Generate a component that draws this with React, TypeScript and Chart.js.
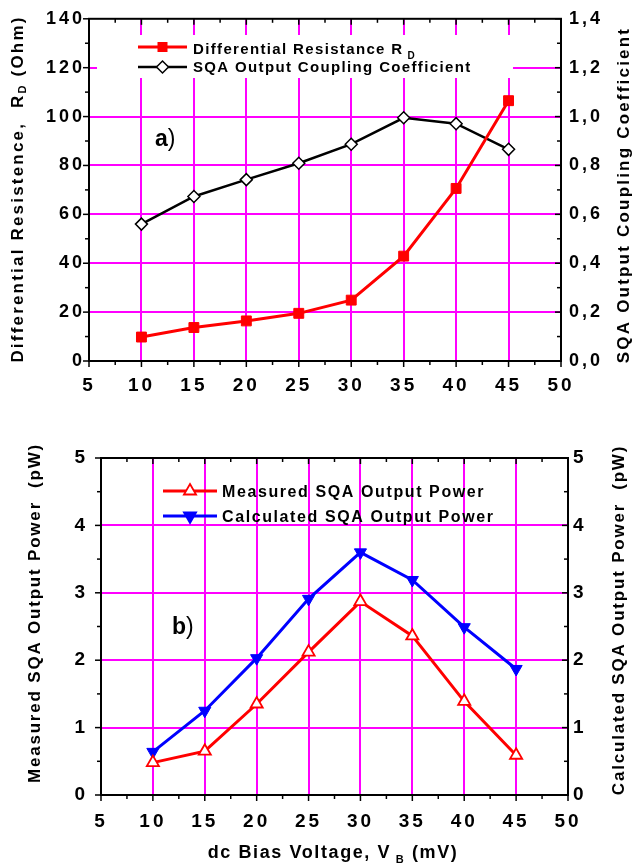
import React, { useEffect, useRef } from 'react';
import { Chart, registerables } from 'chart.js';

Chart.register(...registerables);

const FONT = '"Liberation Sans", Arial, Helvetica, sans-serif';

// ---- data ----
const biasVoltage = [10, 15, 20, 25, 30, 35, 40, 45];
const differentialResistance = [9.8, 13.7, 16.4, 19.5, 24.9, 42.9, 70.6, 106.5];
const couplingCoefficient = [0.56, 0.673, 0.742, 0.809, 0.887, 0.995, 0.971, 0.866];
const measuredPower = [0.48, 0.65, 1.35, 2.12, 2.87, 2.36, 1.39, 0.59];
const calculatedPower = [0.64, 1.25, 2.03, 2.91, 3.6, 3.19, 2.49, 1.87];

// ---- ticks ----
const voltageTicks = [5, 10, 15, 20, 25, 30, 35, 40, 45, 50];
const resistanceTicks = [0, 20, 40, 60, 80, 100, 120, 140];
const couplingTicks = [0, 0.2, 0.4, 0.6, 0.8, 1.0, 1.2, 1.4];
const couplingTickLabels = ['0,0', '0,2', '0,4', '0,6', '0,8', '1,0', '1,2', '1,4'];
const powerTicks = [0, 1, 2, 3, 4, 5];

type Part = { t: string; size: number; dy?: number; weight?: string };

function drawParts(
  ctx: CanvasRenderingContext2D,
  parts: Part[],
  x: number,
  y: number,
  rot: number,
  align: 'left' | 'center',
  spacing = 0
) {
  ctx.save();
  (ctx as any).letterSpacing = `${spacing}px`;
  ctx.translate(x, y);
  ctx.rotate(rot);
  ctx.textBaseline = 'middle';
  ctx.textAlign = 'left';
  ctx.fillStyle = '#000';
  const widths = parts.map((p) => {
    ctx.font = `${p.weight ?? 'bold'} ${p.size}px ${FONT}`;
    return ctx.measureText(p.t).width;
  });
  const total = widths.reduce((a, b) => a + b, 0);
  let cx = align === 'center' ? -total / 2 : 0;
  parts.forEach((p, i) => {
    ctx.font = `${p.weight ?? 'bold'} ${p.size}px ${FONT}`;
    ctx.fillText(p.t, cx, p.dy ?? 0);
    cx += widths[i];
  });
  ctx.restore();
}

type TickSpec = { id: string; edge: 'top' | 'bottom' | 'left' | 'right'; outward: boolean; minorStep: number };

function drawAxisTicks(ctx: CanvasRenderingContext2D, chart: any, spec: TickSpec) {
  const s = chart.scales[spec.id];
  const a = chart.chartArea;
  const majors: number[] = s.ticks.map((t: any) => t.value);
  const n = Math.round((s.max - s.min) / spec.minorStep);
  ctx.save();
  ctx.strokeStyle = '#000';
  ctx.lineWidth = 1.5;
  for (let i = 0; i <= n; i++) {
    const v = s.min + i * spec.minorStep;
    const isMajor = majors.some((m) => Math.abs(m - v) < 1e-6);
    const len = isMajor ? 6 : 4;
    const p = s.getPixelForValue(v);
    ctx.beginPath();
    if (spec.edge === 'bottom' || spec.edge === 'top') {
      const y0 = spec.edge === 'bottom' ? a.bottom : a.top;
      const sign = (spec.edge === 'bottom') === spec.outward ? 1 : -1;
      ctx.moveTo(p, y0);
      ctx.lineTo(p, y0 + sign * len);
    } else {
      const x0 = spec.edge === 'left' ? a.left : a.right;
      const sign = (spec.edge === 'right') === spec.outward ? 1 : -1;
      ctx.moveTo(x0, p);
      ctx.lineTo(x0 + sign * len, p);
    }
    ctx.stroke();
  }
  ctx.restore();
}

function drawFrame(ctx: CanvasRenderingContext2D, chart: any) {
  const a = chart.chartArea;
  ctx.save();
  ctx.strokeStyle = '#000';
  ctx.lineWidth = 2;
  ctx.strokeRect(a.left, a.top, a.right - a.left, a.bottom - a.top);
  ctx.restore();
}

function markerSquare(ctx: CanvasRenderingContext2D, x: number, y: number) {
  ctx.fillStyle = '#ff0000';
  ctx.fillRect(x - 5, y - 5, 10, 10);
}
function markerDiamond(ctx: CanvasRenderingContext2D, x: number, y: number) {
  ctx.beginPath();
  ctx.moveTo(x - 6, y);
  ctx.lineTo(x, y - 6);
  ctx.lineTo(x + 6, y);
  ctx.lineTo(x, y + 6);
  ctx.closePath();
  ctx.fillStyle = '#fff';
  ctx.fill();
  ctx.strokeStyle = '#000';
  ctx.lineWidth = 1.5;
  ctx.stroke();
}
function markerTriangle(ctx: CanvasRenderingContext2D, x: number, y: number, up: boolean, fill: string, stroke: string) {
  const r = 7;
  const s = up ? 1 : -1;
  ctx.beginPath();
  ctx.moveTo(x, y - s * r);
  ctx.lineTo(x + r * 0.866, y + s * r * 0.5);
  ctx.lineTo(x - r * 0.866, y + s * r * 0.5);
  ctx.closePath();
  ctx.fillStyle = fill;
  ctx.fill();
  ctx.strokeStyle = stroke;
  ctx.lineWidth = 1.8;
  ctx.stroke();
}

function legendRow(
  ctx: CanvasRenderingContext2D,
  x1: number,
  x2: number,
  y: number,
  color: string,
  lw: number,
  marker: (c: CanvasRenderingContext2D, x: number, y: number) => void,
  parts: Part[],
  tx: number,
  ty: number,
  spacing: number
) {
  ctx.save();
  ctx.strokeStyle = color;
  ctx.lineWidth = lw;
  ctx.beginPath();
  ctx.moveTo(x1, y);
  ctx.lineTo(x2, y);
  ctx.stroke();
  marker(ctx, (x1 + x2) / 2, y);
  ctx.restore();
  drawParts(ctx, parts, tx, ty, 0, 'left', spacing);
}

function gridColor(c: any) {
  const v = c.tick ? c.tick.value : null;
  if (v === null || v === c.scale.min || v === c.scale.max) return 'rgba(0,0,0,0)';
  return '#ff00ff';
}

const tickFont = (size: number) => ({ family: FONT, size, weight: 'bold' as const });

const tickSpacingPlugin = {
  id: 'tickSpacing',
  beforeDraw(chart: any) {
    (chart.ctx as any).letterSpacing = '3px';
  },
};

function makeTopConfig(): any {
  const decor = {
    id: 'decorTop',
    beforeDatasetsDraw(chart: any) {
      const ctx = chart.ctx;
      ctx.save();
      ctx.fillStyle = '#fff';
      ctx.fillRect(97, 35, 416, 43);
      ctx.restore();
    },
    afterDraw(chart: any) {
      const ctx = chart.ctx as CanvasRenderingContext2D;
      drawFrame(ctx, chart);
      drawAxisTicks(ctx, chart, { id: 'x', edge: 'bottom', outward: true, minorStep: 2.5 });
      drawAxisTicks(ctx, chart, { id: 'x', edge: 'top', outward: false, minorStep: 2.5 });
      drawAxisTicks(ctx, chart, { id: 'y', edge: 'left', outward: true, minorStep: 10 });
      drawAxisTicks(ctx, chart, { id: 'y1', edge: 'right', outward: false, minorStep: 0.1 });
      // axis titles
      drawParts(
        ctx,
        [
          { t: 'Differential Resistence,  R', size: 17 },
          { t: 'D', size: 11, dy: 5 },
          { t: ' (Ohm)', size: 17 },
        ],
        18,
        189,
        -Math.PI / 2,
        'center',
        2.2
      );
      drawParts(ctx, [{ t: 'SQA Output Coupling Coefficient', size: 17 }], 624, 195, -Math.PI / 2, 'center', 2.2);
      // legend
      legendRow(ctx, 138, 187, 47, '#ff0000', 3, markerSquare,
        [{ t: 'Differential Resistance R', size: 15 }, { t: ' D', size: 10, dy: 6 }], 193, 50, 1.35);
      legendRow(ctx, 138, 187, 67, '#000', 2.5, markerDiamond,
        [{ t: 'SQA Output Coupling Coefficient', size: 15 }], 193, 68, 1.35);
      // panel label
      drawParts(ctx, [{ t: 'a', size: 23 }, { t: ')', size: 23, weight: 'normal' }], 155, 140, 0, 'left', 0);
    },
  };
  return {
    type: 'line',
    data: {
      datasets: [
        {
          label: 'Differential Resistance R_D',
          data: biasVoltage.map((x, i) => ({ x, y: differentialResistance[i] })),
          yAxisID: 'y',
          borderColor: '#ff0000',
          backgroundColor: '#ff0000',
          borderWidth: 3,
          pointStyle: 'rect',
          pointRadius: 7,
          pointBorderWidth: 1,
          pointBackgroundColor: '#ff0000',
          pointBorderColor: '#ff0000',
        },
        {
          label: 'SQA Output Coupling Coefficient',
          data: biasVoltage.map((x, i) => ({ x, y: couplingCoefficient[i] })),
          yAxisID: 'y1',
          borderColor: '#000',
          backgroundColor: '#fff',
          borderWidth: 2.5,
          pointStyle: 'rectRot',
          pointRadius: 6,
          pointBorderWidth: 1.5,
          pointBackgroundColor: '#fff',
          pointBorderColor: '#000',
        },
      ],
    },
    options: {
      animation: false,
      responsive: false,
      layout: { padding: { top: 14, left: 0, right: 0, bottom: 0 } },
      plugins: { legend: { display: false }, tooltip: { enabled: false } },
      scales: {
        x: {
          type: 'linear',
          position: 'bottom',
          min: 5,
          max: 50,
          afterBuildTicks: (s: any) => {
            s.ticks = voltageTicks.map((v) => ({ value: v }));
          },
          afterFit: (s: any) => {
            s.height = 69;
          },
          grid: { color: gridColor, lineWidth: 2, drawTicks: false },
          border: { display: false },
          ticks: { font: tickFont(19), color: '#000', padding: 13, maxRotation: 0, autoSkip: false },
        },
        y: {
          position: 'left',
          min: 0,
          max: 140,
          afterBuildTicks: (s: any) => {
            s.ticks = resistanceTicks.map((v) => ({ value: v }));
          },
          afterFit: (s: any) => {
            s.width = 89;
          },
          grid: { color: gridColor, lineWidth: 2, drawTicks: false },
          border: { display: false },
          ticks: { font: tickFont(18), color: '#000', padding: 4, autoSkip: false },
        },
        y1: {
          position: 'right',
          min: 0,
          max: 1.4,
          afterBuildTicks: (s: any) => {
            s.ticks = couplingTicks.map((v) => ({ value: v }));
          },
          afterFit: (s: any) => {
            s.width = 76;
          },
          grid: { drawOnChartArea: false, drawTicks: false },
          border: { display: false },
          ticks: {
            font: tickFont(18),
            color: '#000',
            padding: 8,
            autoSkip: false,
            callback: (_v: any, i: number) => couplingTickLabels[i],
          },
        },
      },
    },
    plugins: [tickSpacingPlugin, decor],
  };
}

function makeBottomConfig(): any {
  const decor = {
    id: 'decorBottom',
    afterDraw(chart: any) {
      const ctx = chart.ctx as CanvasRenderingContext2D;
      drawFrame(ctx, chart);
      drawAxisTicks(ctx, chart, { id: 'x', edge: 'bottom', outward: true, minorStep: 2.5 });
      drawAxisTicks(ctx, chart, { id: 'x', edge: 'top', outward: false, minorStep: 2.5 });
      drawAxisTicks(ctx, chart, { id: 'y', edge: 'left', outward: true, minorStep: 0.5 });
      drawAxisTicks(ctx, chart, { id: 'y1', edge: 'right', outward: false, minorStep: 0.5 });
      drawParts(ctx, [{ t: 'Measured SQA Output Power  (pW)', size: 17 }], 35, 183, -Math.PI / 2, 'center', 1.8);
      drawParts(ctx, [{ t: 'Calculated SQA Output Power  (pW)', size: 17 }], 619, 190, -Math.PI / 2, 'center', 1.8);
      drawParts(
        ctx,
        [
          { t: 'dc Bias Voltage, V', size: 18 },
          { t: ' B', size: 11, dy: 7 },
          { t: ' (mV)', size: 18 },
        ],
        333,
        423,
        0,
        'center',
        1.6
      );
      legendRow(ctx, 163, 217, 61, '#ff0000', 3,
        (c, x, y) => markerTriangle(c, x, y, true, '#fff', '#ff0000'),
        [{ t: 'Measured SQA Output Power', size: 16 }], 222, 63, 1.6);
      legendRow(ctx, 163, 217, 86, '#0000ff', 3,
        (c, x, y) => markerTriangle(c, x, y, false, '#0000ff', '#0000ff'),
        [{ t: 'Calculated SQA Output Power', size: 16 }], 222, 88, 1.6);
      drawParts(ctx, [{ t: 'b', size: 23 }, { t: ')', size: 23, weight: 'normal' }], 172, 198, 0, 'left', 0);
    },
  };
  return {
    type: 'line',
    data: {
      datasets: [
        {
          label: 'Measured SQA Output Power',
          data: biasVoltage.map((x, i) => ({ x, y: measuredPower[i] })),
          yAxisID: 'y',
          borderColor: '#ff0000',
          backgroundColor: '#fff',
          borderWidth: 3,
          pointStyle: 'triangle',
          pointRadius: 7,
          pointBorderWidth: 1.8,
          pointBackgroundColor: '#fff',
          pointBorderColor: '#ff0000',
        },
        {
          label: 'Calculated SQA Output Power',
          data: biasVoltage.map((x, i) => ({ x, y: calculatedPower[i] })),
          yAxisID: 'y1',
          borderColor: '#0000ff',
          backgroundColor: '#0000ff',
          borderWidth: 3,
          pointStyle: 'triangle',
          pointRotation: 180,
          pointRadius: 7,
          pointBorderWidth: 1,
          pointBackgroundColor: '#0000ff',
          pointBorderColor: '#0000ff',
        },
      ],
    },
    options: {
      animation: false,
      responsive: false,
      layout: { padding: { top: 28, left: 0, right: 0, bottom: 0 } },
      plugins: { legend: { display: false }, tooltip: { enabled: false } },
      scales: {
        x: {
          type: 'linear',
          position: 'bottom',
          min: 5,
          max: 50,
          afterBuildTicks: (s: any) => {
            s.ticks = voltageTicks.map((v) => ({ value: v }));
          },
          afterFit: (s: any) => {
            s.height = 72;
          },
          grid: { color: gridColor, lineWidth: 2, drawTicks: false },
          border: { display: false },
          ticks: { font: tickFont(19), color: '#000', padding: 15, maxRotation: 0, autoSkip: false },
        },
        y: {
          position: 'left',
          min: 0,
          max: 5,
          afterBuildTicks: (s: any) => {
            s.ticks = powerTicks.map((v) => ({ value: v }));
          },
          afterFit: (s: any) => {
            s.width = 101;
          },
          grid: { color: gridColor, lineWidth: 2, drawTicks: false },
          border: { display: false },
          ticks: { font: tickFont(19), color: '#000', padding: 13, autoSkip: false },
        },
        y1: {
          position: 'right',
          min: 0,
          max: 5,
          afterBuildTicks: (s: any) => {
            s.ticks = powerTicks.map((v) => ({ value: v }));
          },
          afterFit: (s: any) => {
            s.width = 69;
          },
          grid: { drawOnChartArea: false, drawTicks: false },
          border: { display: false },
          ticks: { font: tickFont(19), color: '#000', padding: 5, autoSkip: false },
        },
      },
    },
    plugins: [tickSpacingPlugin, decor],
  };
}

function ChartCanvas({ width, height, makeConfig }: { width: number; height: number; makeConfig: () => any }) {
  const ref = useRef<HTMLCanvasElement>(null);
  useEffect(() => {
    if (!ref.current) return;
    const chart = new Chart(ref.current, makeConfig());
    return () => chart.destroy();
  }, [makeConfig]);
  return <canvas ref={ref} width={width} height={height} style={{ display: 'block', width, height }} />;
}

export default function App() {
  return (
    <div style={{ position: 'absolute', left: 0, top: 0, width: 637, height: 867, background: '#fff' }}>
      <ChartCanvas width={637} height={430} makeConfig={makeTopConfig} />
      <ChartCanvas width={637} height={437} makeConfig={makeBottomConfig} />
    </div>
  );
}
